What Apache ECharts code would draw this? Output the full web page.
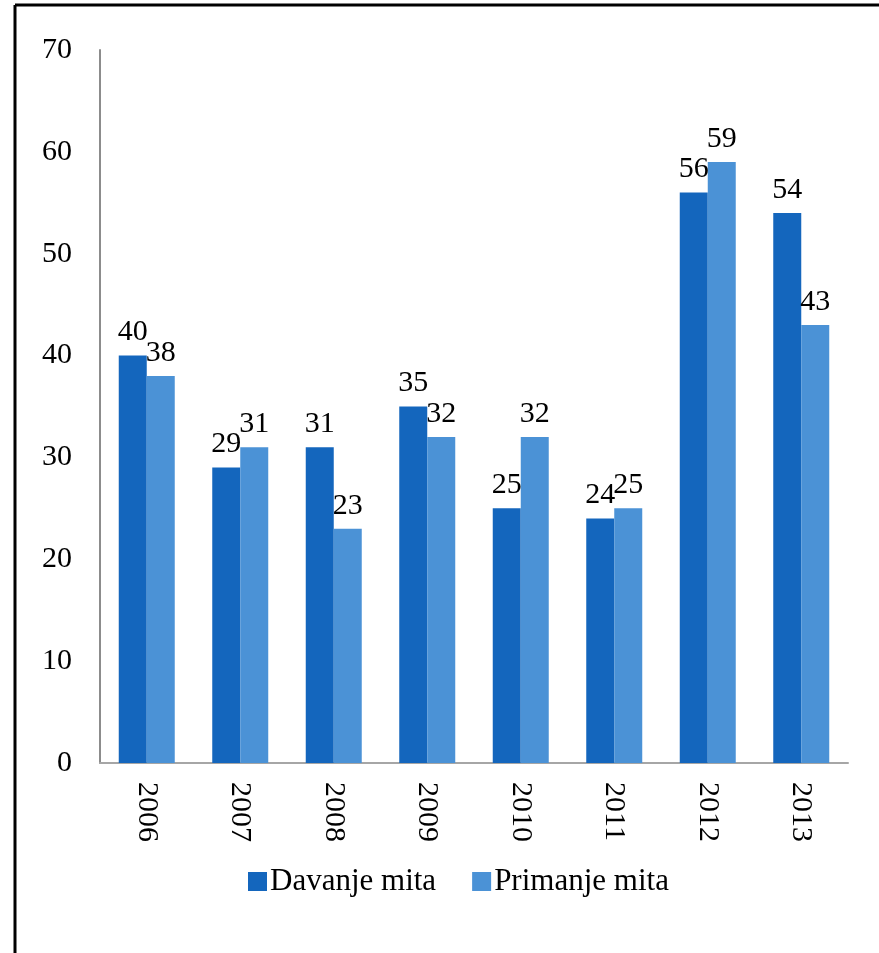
<!DOCTYPE html>
<html>
<head>
<meta charset="utf-8">
<script src="https://cdn.jsdelivr.net/npm/echarts@6/dist/echarts.min.js"></script>
<style>
html,body{margin:0;padding:0;background:#fff;}
#c{width:879px;height:953px;}
</style>
</head>
<body>
<div id="c"></div>
<script>
const years = ['2006','2007','2008','2009','2010','2011','2012','2013'];
const davanje = [40, 29, 31, 35, 25, 24, 56, 54];
const primanje = [38, 31, 23, 32, 32, 25, 59, 43];
const seriesNames = ['Davanje mita', 'Primanje mita'];
const yTicks = [0, 10, 20, 30, 40, 50, 60, 70];

const font = '"Liberation Serif", "Times New Roman", serif';
const chart = echarts.init(document.getElementById('c'));
chart.setOption({
  backgroundColor: '#ffffff',
  animation: false,
  graphic: [
    { type: 'line', shape: { x1: 15, y1: 5, x2: 879, y2: 5 }, style: { stroke: '#000', lineWidth: 3 } },
    { type: 'line', shape: { x1: 15, y1: 5, x2: 15, y2: 953 }, style: { stroke: '#000', lineWidth: 3 } }
  ],
  grid: { left: 100, right: 31, top: 50, bottom: 190 },
  legend: {
    left: 243, top: 861,
    itemWidth: 19, itemHeight: 19, itemGap: 36,
    icon: 'rect',
    textStyle: { fontFamily: font, fontSize: 31, color: '#000', padding: [0, 0, 0, -2] },
    data: seriesNames
  },
  xAxis: {
    type: 'category',
    data: years,
    axisLine: { lineStyle: { color: '#a6a6a6', width: 2 } },
    axisTick: { show: false },
    axisLabel: { rotate: -90, margin: 19, fontFamily: font, fontSize: 30, color: '#000' }
  },
  yAxis: {
    type: 'value', min: 0, max: 70, interval: 10,
    axisLine: { show: true, lineStyle: { color: '#8c8c8c', width: 2 } },
    axisTick: { show: false },
    splitLine: { show: false },
    axisLabel: { margin: 28, fontFamily: font, fontSize: 30, color: '#000',
      formatter: v => yTicks.includes(v) ? String(v) : '' }
  },
  series: [
    { name: seriesNames[0], type: 'bar', data: davanje, barWidth: 28, barGap: '0%',
      itemStyle: { color: '#1466bd' },
      label: { show: true, position: 'top', distance: 8, fontFamily: font, fontSize: 30, color: '#000' } },
    { name: seriesNames[1], type: 'bar', data: primanje, barWidth: 28,
      itemStyle: { color: '#4b92d6' },
      label: { show: true, position: 'top', distance: 8, fontFamily: font, fontSize: 30, color: '#000' } }
  ]
});
</script>
</body>
</html>
